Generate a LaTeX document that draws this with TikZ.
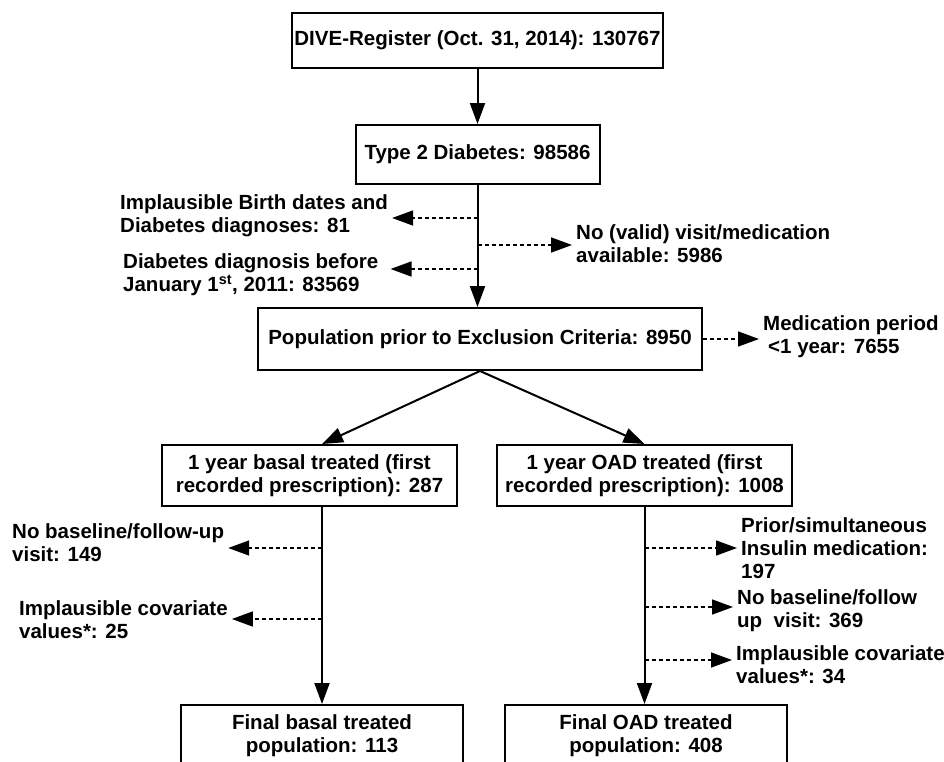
\documentclass[tikz,border=0pt]{standalone}
\usepackage{fontspec}
\setmainfont{Liberation Sans}
\usetikzlibrary{arrows.meta}

\begin{document}
\begin{tikzpicture}[x=1pt,y=-1pt,
        font=\fontsize{20.5}{23}\selectfont\bfseries,
        box/.style={draw,line width=2pt,align=center,inner sep=0pt},
        note/.style={align=left,inner ysep=0pt,inner xsep=4pt,anchor=west},
        flow/.style={line width=2pt,-{Triangle[length=21pt,width=15pt]}},
        drop/.style={flow,line width=1.6pt,dash pattern=on 4pt off 3pt}]
        \path[use as bounding box] (0,0) rectangle (944,761);
        \clip (0,0) rectangle (944,761);

        % main boxes
        \node[box,minimum width=371,minimum height=55] (reg) at (477.5,40.5) {DIVE-Register (Oct. 31, 2014): 130767};
        \node[box,minimum width=244,minimum height=59] (t2d) at (477.5,154.5) {Type 2 Diabetes: 98586};
        \node[box,minimum width=444,minimum height=62] (pop) at (480,339) {Population prior to Exclusion Criteria: 8950};
        \node[box,minimum width=295,minimum height=61] (basal) at (309.5,475.5) {1 year basal treated (first\\recorded prescription): 287};
        \node[box,minimum width=295,minimum height=61] (oad) at (644.5,475.5) {1 year OAD treated (first\\recorded prescription): 1008};
        \node[box,minimum width=282,minimum height=62] (fbasal) at (322,736) {Final basal treated\\population: 113};
        \node[box,minimum width=282,minimum height=62] (foad) at (646,736) {Final OAD treated\\population: 408};

        % excluded counts
        \node[note] (birth) at (116,216) {Implausible Birth dates and\\Diabetes diagnoses: 81};
        \node[note] (before) at (119,275) {Diabetes diagnosis before\\January 1\textsuperscript{st}, 2011: 83569};
        \node[note] (valid) at (572,244) {No (valid) visit/medication\\available: 5986};
        \node[note] (medper) at (759,336.5) {Medication period\\\hspace{5pt}<1 year: 7655};
        \node[note] (nobas) at (8,543) {No baseline/follow-up\\visit: 149};
        \node[note] (implb) at (15,620) {Implausible covariate\\values*: 25};
        \node[note] (prior) at (737,548) {Prior/simultaneous\\Insulin medication:\\197};
        \node[note] (nooad) at (733,610.5) {No baseline/follow\\up~~visit: 369};
        \node[note] (implo) at (732,664.5) {Implausible covariate\\values*: 34};

        % branch points on the flow lines
        \coordinate (c1) at (477.5,218);
        \coordinate (c2) at (477.5,245);
        \coordinate (c3) at (477.5,269);
        \coordinate (b1) at (322,548);
        \coordinate (b2) at (322,619);
        \coordinate (o1) at (644.5,548);
        \coordinate (o2) at (644.5,607);
        \coordinate (o3) at (644.5,660);

        % flow
        \draw[flow] (reg) -- (t2d);
        \draw[flow] (t2d.south) -- (t2d.south |- pop.north);
        \draw[flow] (pop.south) -- (basal.north -| fbasal);
        \draw[flow] (pop.south) -- (oad.north);
        \draw[flow] (basal.south -| fbasal) -- (fbasal.north);
        \draw[flow] (oad.south) -- (oad.south |- foad.north);

        % exclusions
        \draw[drop] (c1) -- (c1 -| birth.east);
        \draw[drop] (c3) -- ([xshift=8pt]c3 -| before.east);
        \draw[drop] (c2) -- (c2 -| valid.west);
        \draw[drop] (pop.east) -- (pop.east -| medper.west);
        \draw[drop] (b1) -- (b1 -| nobas.east);
        \draw[drop] (b2) -- (b2 -| implb.east);
        \draw[drop] (o1) -- (o1 -| prior.west);
        \draw[drop] (o2) -- (o2 -| nooad.west);
        \draw[drop] (o3) -- (o3 -| implo.west);
    \end{tikzpicture}
\end{document}
